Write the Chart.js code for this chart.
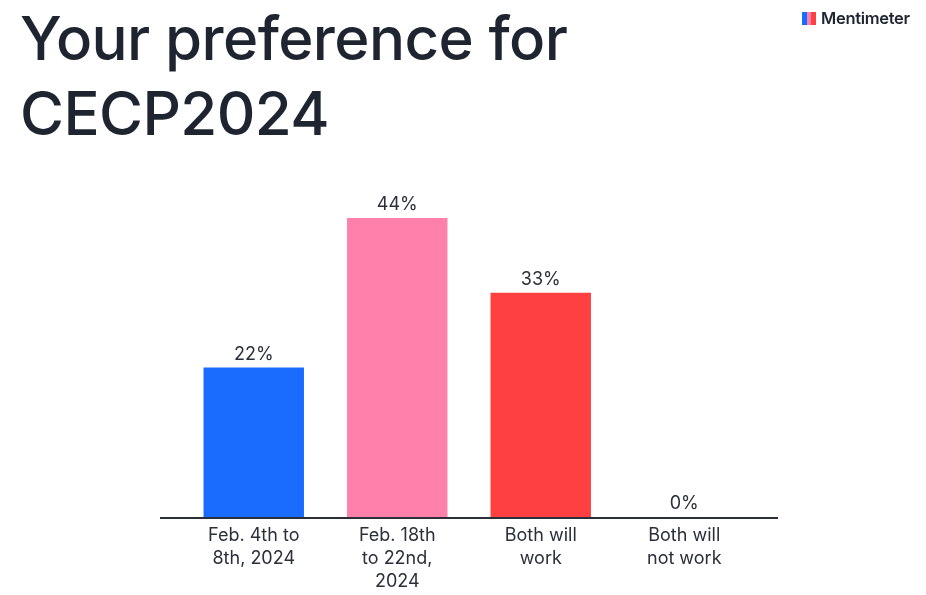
<!DOCTYPE html>
<html>
<head>
<meta charset="utf-8">
<script src="https://cdn.jsdelivr.net/npm/chart.js@4"></script>
<style>
  body { margin: 0; background: #fff; font-family: Inter, "Noto Sans", sans-serif; }
  #wrap { position: relative; width: 926px; height: 595px; }
  #title { position: absolute; left: 20px; top: 1px; font-size: 60px; line-height: 75px; font-weight: 500; color: #1f2530; letter-spacing: -0.6px; margin: 0; }
  #logo { position: absolute; left: 802px; top: 8px; font-size: 16.5px; font-weight: 600; color: #1f2530; display: flex; align-items: center; gap: 5px; letter-spacing: -0.3px; }
  #logo i { display: inline-block; width: 14px; height: 13px; background: linear-gradient(90deg, #196cff 0 33%, #ff80ab 33% 66%, #ff4040 66%); }
  canvas { position: absolute; left: 0; top: 0; }
</style>
</head>
<body>
<div id="wrap">
  <canvas id="c" width="926" height="595"></canvas>
  <h1 id="title">Your preference for<br>CECP2024</h1>
  <div id="logo"><i></i>Mentimeter</div>
</div>
<script>
// données
const categories = [['Feb. 4th to', '8th, 2024'], ['Feb. 18th', 'to 22nd,', '2024'], ['Both will', 'work'], ['Both will', 'not work']];
const valeurs = [22, 44, 33, 0];
const couleurs = ['#196cff', '#ff80ab', '#ff4040', '#cccccc'];

const dessinPlugin = {
  id: 'dessin',
  afterDatasetsDraw(chart) {
    const ctx = chart.ctx, a = chart.chartArea, x = chart.scales.x;
    ctx.save();
    // ligne de base
    ctx.strokeStyle = '#2a2f3a';
    ctx.lineWidth = 2;
    ctx.beginPath();
    ctx.moveTo(a.left - 22, a.bottom + 1);
    ctx.lineTo(a.right + 22, a.bottom + 1);
    ctx.stroke();
    ctx.fillStyle = '#2a2f3a';
    ctx.font = '18px Inter, "Noto Sans", sans-serif';
    ctx.textAlign = 'center';
    ctx.textBaseline = 'middle';
    const meta = chart.getDatasetMeta(0);
    meta.data.forEach((bar, i) => {
      ctx.fillText(valeurs[i] + '%', bar.x, bar.y - 13);
      categories[i].forEach((l, j) => ctx.fillText(l, x.getPixelForValue(i), a.bottom + 19 + j * 23));
    });
    ctx.restore();
  }
};

new Chart(document.getElementById('c'), {
  type: 'bar',
  data: {
    labels: categories.map(c => c.join(' ')),
    datasets: [{ data: valeurs, backgroundColor: couleurs, categoryPercentage: 0.7, barPercentage: 1 }]
  },
  options: {
    responsive: false,
    animation: false,
    layout: { padding: { left: 182, right: 170, top: 218, bottom: 78 } },
    plugins: { legend: { display: false }, tooltip: { enabled: false } },
    scales: {
      x: { display: false },
      y: { display: false, min: 0, max: 44 }
    }
  },
  plugins: [dessinPlugin]
});
</script>
</body>
</html>
